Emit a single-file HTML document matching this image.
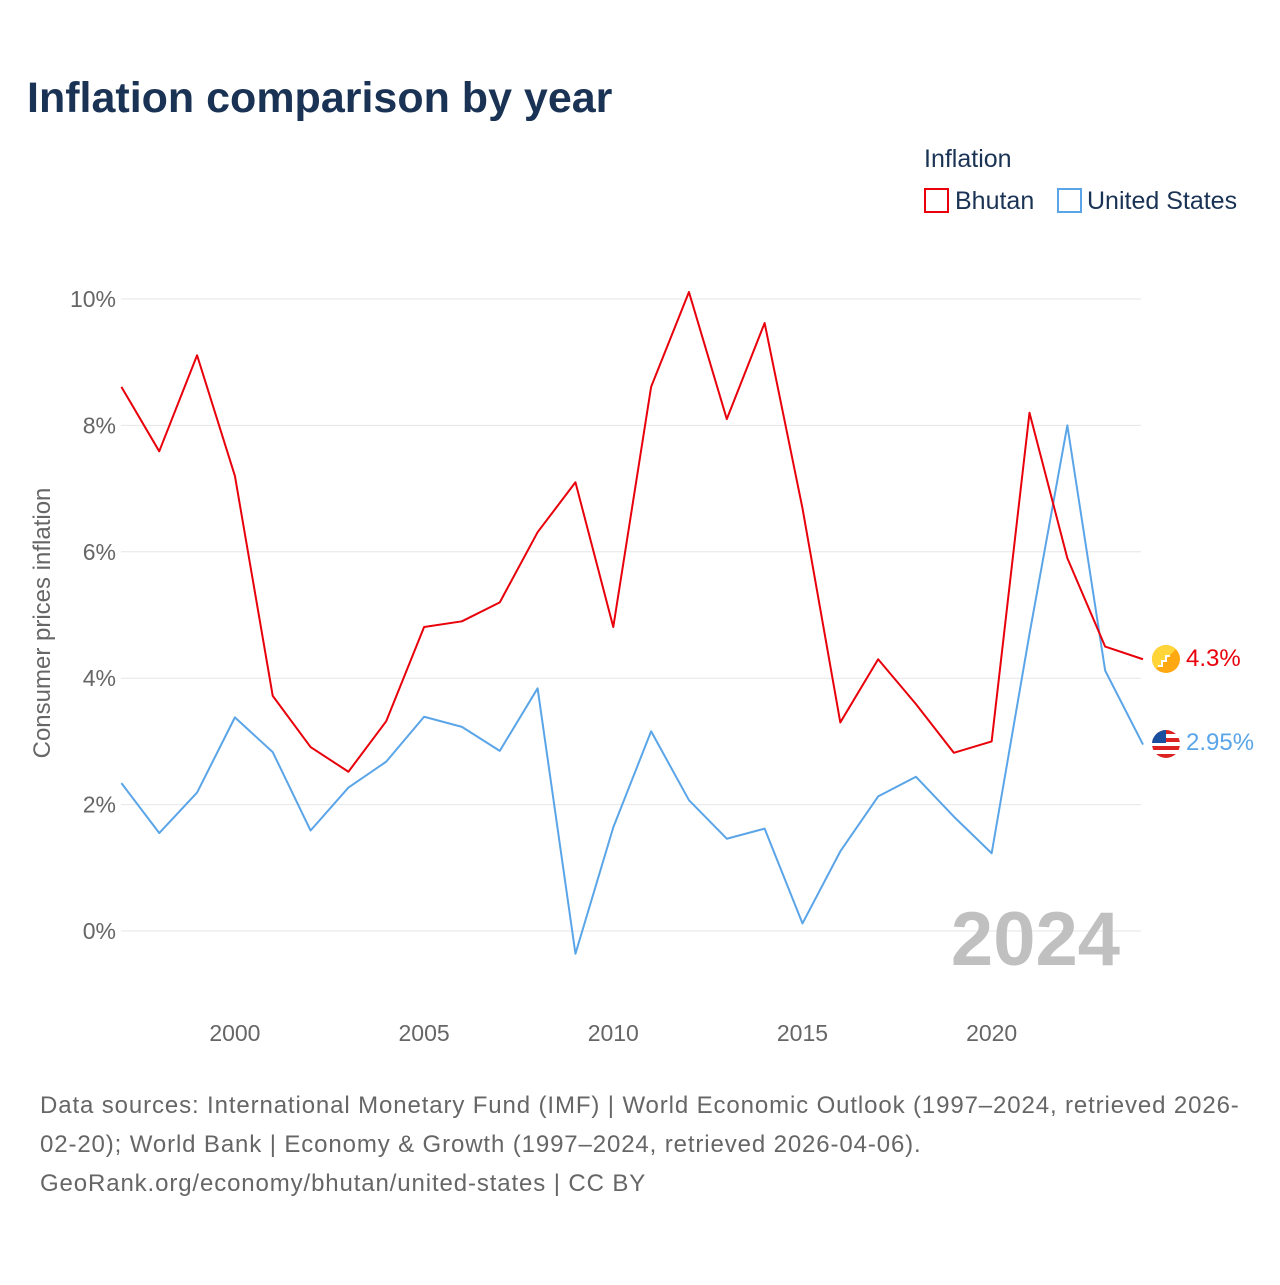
<!DOCTYPE html>
<html><head><meta charset="utf-8"><style>
body{margin:0;background:#fff;width:1280px;height:1280px;overflow:hidden;font-family:"Liberation Sans",sans-serif}
</style></head><body>
<svg width="1280" height="1280" id="chart" xmlns="http://www.w3.org/2000/svg" font-family="Liberation Sans, sans-serif">
<text x="27" y="112" font-size="43" font-weight="bold" fill="#1a3355">Inflation comparison by year</text>
<text x="924" y="167" font-size="25" fill="#1a3355">Inflation</text>
<g><rect x="925" y="189" width="23" height="23" fill="none" stroke="#e8000b" stroke-width="2"/><text x="955" y="209" font-size="25" fill="#1a3355">Bhutan</text></g>
<g><rect x="1058" y="189" width="23" height="23" fill="none" stroke="#5aa5e8" stroke-width="2"/><text x="1087" y="209" font-size="25" fill="#1a3355">United States</text></g>
<g id="grid"></g>
<g id="xaxis"></g>
<text transform="translate(50,623) rotate(-90)" text-anchor="middle" font-size="24" fill="#666">Consumer prices inflation</text>
<text x="1120" y="965" text-anchor="end" font-size="76" font-weight="bold" fill="#c0c0c0">2024</text>
<g id="series"></g>
<g><circle cx="1166" cy="659" r="14" fill="#ffa812"/><path d="M1166 645 A14 14 0 0 0 1152 659 L1180 659 A14 14 0 0 0 1166 645Z" fill="#ffd53a" transform="rotate(-45 1166 659)"/><path d="M1158 666 l4 0 0-5 4 0 0-5 4 0" stroke="#fff" stroke-width="2" fill="none"/></g>
<g><clipPath id="uc"><circle cx="1166" cy="744" r="14"/></clipPath><g clip-path="url(#uc)"><rect x="1152" y="730" width="28" height="28" fill="#fff"/><rect x="1152" y="730" width="28" height="4" fill="#d22"/><rect x="1152" y="738" width="28" height="4" fill="#d22"/><rect x="1152" y="746" width="28" height="4" fill="#d22"/><rect x="1152" y="754" width="28" height="4" fill="#d22"/><rect x="1152" y="730" width="14" height="13" fill="#1a4fa0"/></g></g>
<text x="1186" y="666" font-size="24" fill="#e8000b">4.3%</text>
<text x="1186" y="750" font-size="24" fill="#5aa5e8">2.95%</text>
<text font-size="24" fill="#666" letter-spacing="0.88"><tspan x="40" y="1113">Data sources: International Monetary Fund (IMF) | World Economic Outlook (1997–2024, retrieved 2026-</tspan><tspan x="40" y="1152">02-20); World Bank | Economy &amp; Growth (1997–2024, retrieved 2026-04-06).</tspan><tspan x="40" y="1191">GeoRank.org/economy/bhutan/united-states | CC BY</tspan></text>
</svg>
<script>
const years=[1997,1998,1999,2000,2001,2002,2003,2004,2005,2006,2007,2008,2009,2010,2011,2012,2013,2014,2015,2016,2017,2018,2019,2020,2021,2022,2023,2024];
const bhutan=[8.61,7.59,9.11,7.2,3.72,2.91,2.52,3.32,4.81,4.9,5.2,6.31,7.1,4.81,8.61,10.11,8.1,9.62,6.69,3.3,4.3,3.59,2.82,3.0,8.2,5.9,4.5,4.3];
const us=[2.34,1.55,2.19,3.38,2.83,1.59,2.27,2.68,3.39,3.23,2.85,3.84,-0.36,1.64,3.16,2.07,1.46,1.62,0.12,1.26,2.13,2.44,1.81,1.23,4.7,8.0,4.12,2.95];
const yTicks=[0,2,4,6,8,10];
const xTicks=[2000,2005,2010,2015,2020];
const NS="http://www.w3.org/2000/svg";
const X=v=>121.4+(v-1997)*(1143-121.4)/27;
const Y=v=>931-v*63.2;
const grid=document.getElementById('grid'),xa=document.getElementById('xaxis'),ser=document.getElementById('series');
yTicks.forEach(t=>{
 const l=document.createElementNS(NS,'line');
 l.setAttribute('x1',121);l.setAttribute('x2',1141);l.setAttribute('y1',Y(t));l.setAttribute('y2',Y(t));
 l.setAttribute('stroke','#e6e6e6');l.setAttribute('stroke-width','1');
 
 
 grid.appendChild(l);
 const tx=document.createElementNS(NS,'text');
 tx.setAttribute('x',116);tx.setAttribute('y',Y(t)+8);tx.setAttribute('text-anchor','end');
 tx.setAttribute('font-size','23');tx.setAttribute('fill','#666');tx.textContent=t+'%';
 
 
 grid.appendChild(tx);
});
xTicks.forEach(t=>{
 const tx=document.createElementNS(NS,'text');
 tx.setAttribute('x',X(t));tx.setAttribute('y',1041);tx.setAttribute('text-anchor','middle');
 tx.setAttribute('font-size','23');tx.setAttribute('fill','#666');tx.textContent=t;
 
 
 xa.appendChild(tx);
});
function line(vals,color,name){
 const p=document.createElementNS(NS,'polyline');
 p.setAttribute('points',vals.map((v,i)=>X(years[i])+','+Y(v)).join(' '));
 p.setAttribute('fill','none');p.setAttribute('stroke',color);p.setAttribute('stroke-width','2');
 p.setAttribute('stroke-linejoin','round');
 
 
 ser.appendChild(p);
}
line(us,'#5aa5e8','us-line');
line(bhutan,'#e8000b','bhutan-line');
</script>
</body></html>
